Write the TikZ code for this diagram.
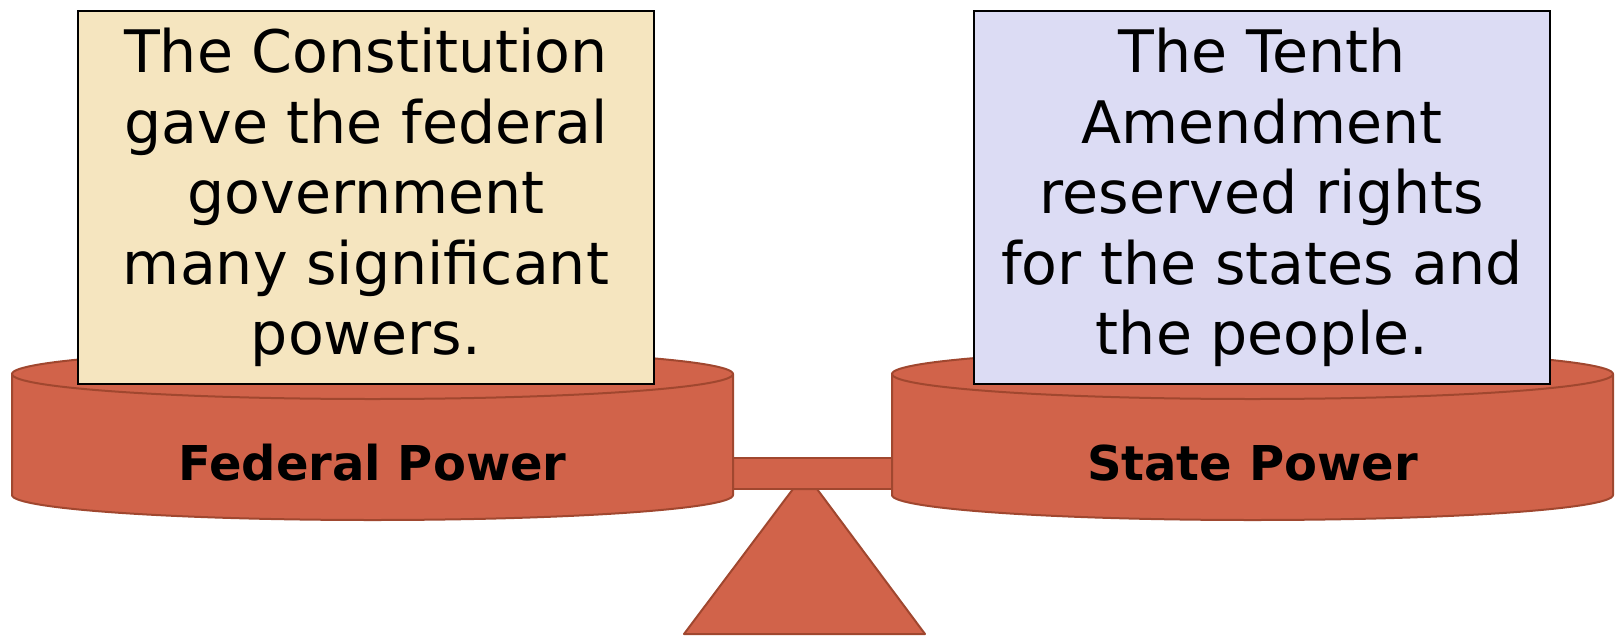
\documentclass[tikz,border=0pt]{standalone}
\usepackage{fontspec}
\setmainfont{DejaVu Sans}
\definecolor{drum}{HTML}{D1634A}
\definecolor{drumline}{HTML}{A0472F}
\definecolor{fedfill}{HTML}{F5E5BF}
\definecolor{statefill}{HTML}{DCDCF4}
\tikzset{
  part/.style={fill=drum,draw=drumline,line width=2pt,line join=round},
  notebox/.style={draw=black,line width=2pt,minimum width=576pt,minimum height=373pt,inner sep=0pt,anchor=north west},
  notetext/.style={align=center,inner sep=0pt,font=\fontsize{58.6}{70.5}\selectfont},
  drumlabel/.style={inner sep=0pt,anchor=base,font=\bfseries\fontsize{48}{56}\selectfont}
}
\begin{document}
\begin{tikzpicture}[x=1pt,y=-1pt]
\useasboundingbox (0,0) rectangle (1615,635);
% fulcrum
\path[part] (793,489) coordinate (ftl) -- (817,489) coordinate (ftr) -- (925,634) coordinate (fbr) -- (684,634) coordinate (fbl) -- cycle;
% beam
\path[part] (733,458) rectangle (892,489);
% left drum
\path[part] (12,374) -- (12,495) arc[start angle=180,end angle=0,x radius=360.5,y radius=25] -- (733,374) arc[start angle=0,end angle=-180,x radius=360.5,y radius=25] -- cycle;
\draw[drumline,line width=2pt] (12,374) arc[start angle=180,end angle=0,x radius=360.5,y radius=25];
% right drum
\path[part] (892,374) -- (892,495) arc[start angle=180,end angle=0,x radius=360.5,y radius=25] -- (1613,374) arc[start angle=0,end angle=-180,x radius=360.5,y radius=25] -- cycle;
\draw[drumline,line width=2pt] (892,374) arc[start angle=180,end angle=0,x radius=360.5,y radius=25];
% labels
\node[drumlabel] (fedlabel) at (372.5,480) {Federal Power};
\node[drumlabel] (statelabel) at (1252.5,480) {State Power};
% boxes
\node[notebox,fill=fedfill] (fedbox) at (77,10) {};
\node[notebox,fill=statefill] (statebox) at (973,10) {};
\node[notetext] (fedtext) at (fedbox.center) {The Constitution\\gave the federal\\government\\many significant\\powers.};
\node[notetext] (statetext) at (statebox.center) {The Tenth\\Amendment\\reserved rights\\for the states and\\the people.};
\end{tikzpicture}
\end{document}
